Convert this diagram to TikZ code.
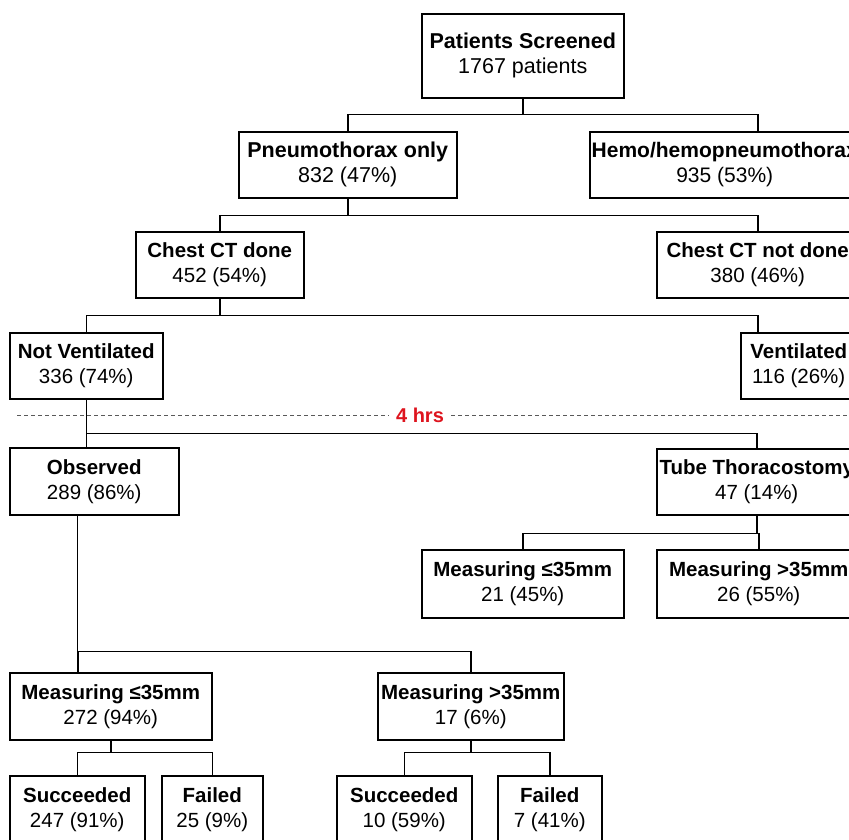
\documentclass[tikz,border=0pt]{standalone}
\usepackage{fontspec}
\setmainfont{Liberation Sans}
\usepackage{xcolor}
\usepackage{tikz}
\usetikzlibrary{positioning, calc}
\definecolor{hrsred}{RGB}{222,20,30}
\tikzstyle{box} = [draw, line width=1.5pt, anchor=north west, inner sep=0pt, minimum height=66pt, align=center, font=\fontsize{20.5}{25}\selectfont]
\tikzstyle{link} = [line width=1.5pt]
\tikzstyle{cutline} = [line width=1pt, black!65, dash pattern=on 4pt off 3pt]

\begin{document}
\begin{tikzpicture}[x=1pt, y=-1pt]
    \useasboundingbox (0,0) rectangle (849,839);
    \clip (0,0) rectangle (849,839);
    \node (scr) [box, minimum width=202pt, minimum height=84pt, font=\fontsize{21.5}{25}\selectfont] at (421,13) {\textbf{Patients Screened}\\1767 patients};
    \node (pneu) [box, minimum width=218pt, font=\fontsize{21.5}{25}\selectfont] at (238,131) {\textbf{Pneumothorax only}\\832 (47\%)};
    \node (hemo) [box, minimum width=270pt, font=\fontsize{21}{25}\selectfont] at (589,131) {\textbf{Hemo/hemopneumothorax}\\935 (53\%)};
    \node (ctd) [box, minimum width=168pt] at (135,231) {\textbf{Chest CT done}\\452 (54\%)};
    \node (ctn) [box, minimum width=202pt] at (656,231) {\textbf{Chest CT not done}\\380 (46\%)};
    \node (nvent) [box, minimum width=153pt] at (9,332) {\textbf{Not Ventilated}\\336 (74\%)};
    \node (vent) [box, minimum width=116pt] at (740,332) {\textbf{Ventilated}\\116 (26\%)};
    \node (obs) [box, minimum width=169pt, minimum height=67pt] at (9,447) {\textbf{Observed}\\289 (86\%)};
    \node (tube) [box, minimum width=200pt] at (656,448) {\textbf{Tube Thoracostomy}\\47 (14\%)};
    \node (tle) [box, minimum width=202pt, minimum height=68pt] at (421,549) {\textbf{Measuring ≤35mm}\\21 (45\%)};
    \node (tgt) [box, minimum width=204pt, minimum height=68pt] at (656,549) {\textbf{Measuring >35mm}\\26 (55\%)};
    \node (ole) [box, minimum width=202pt, minimum height=67pt] at (9,672) {\textbf{Measuring ≤35mm}\\272 (94\%)};
    \node (ogt) [box, minimum width=186pt, minimum height=67pt] at (377,672) {\textbf{Measuring >35mm}\\17 (6\%)};
    \node (suc1) [box, minimum width=135pt, minimum height=67pt] at (9,775) {\textbf{Succeeded}\\247 (91\%)};
    \node (fail1) [box, minimum width=101pt, minimum height=67pt] at (161,775) {\textbf{Failed}\\25 (9\%)};
    \node (suc2) [box, minimum width=135pt, minimum height=67pt] at (336,775) {\textbf{Succeeded}\\10 (59\%)};
    \node (fail2) [box, minimum width=104pt, minimum height=67pt] at (497,775) {\textbf{Failed}\\7 (41\%)};

    \coordinate (cutl) at (17,415);
    \coordinate (cutr) at (849,415);
    \draw [cutline] (cutl) -- (cutr);
    \node (hrs) [fill=white, inner xsep=7pt, inner ysep=1pt, text=hrsred, font=\fontsize{20}{24}\selectfont\bfseries] at (420,415) {4 hrs};

    \draw [link] (scr.south) -- ++(0,16) -| (pneu.north);
    \draw [link] (scr.south) ++(0,16) -| ([xshift=33pt]hemo.north);
    \draw [link] (pneu.south) -- ++(0,17) -| (ctd.north);
    \draw [link] (pneu.south) ++(0,17) -| (ctn.north);
    \draw [link] (ctd.south) -- ++(0,17) -| (nvent.north);
    \draw [link] (ctd.south) ++(0,17) -| ([xshift=-41pt]vent.north);
    \draw [link] (nvent.south) -- ++(0,34) -| ([xshift=-8pt]obs.north);
    \draw [link] (nvent.south) ++(0,34) -| (tube.north);
    \draw [link] ([xshift=-17pt]obs.south) -- ++(0,136) -| ([xshift=-33pt]ole.north);
    \draw [link] ([xshift=-17pt]obs.south) ++(0,136) -| (ogt.north);
    \draw [link] (tube.south) -- ++(0,18) -| (tle.north);
    \draw [link] (tube.south) ++(0,18) -| (tgt.north);
    \draw [link] (ole.south) -- ++(0,12) -| (suc1.north);
    \draw [link] (ole.south) ++(0,12) -| (fail1.north);
    \draw [link] (ogt.south) -- ++(0,12) -| (suc2.north);
    \draw [link] (ogt.south) ++(0,12) -| (fail2.north);
\end{tikzpicture}
\end{document}
